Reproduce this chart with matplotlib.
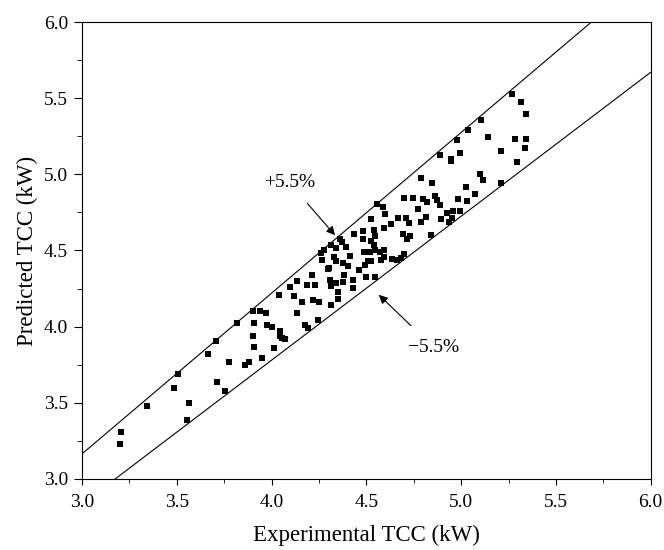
import matplotlib.pyplot as plt
from matplotlib.ticker import MultipleLocator

plt.rcParams['font.family'] = ['Liberation Serif', 'DejaVu Serif']

# Experimental vs predicted TCC (kW)
exp_tcc = [3.208, 3.199, 3.343, 3.504, 3.486, 3.567, 3.553, 3.706, 3.665, 3.713,
           3.773, 3.753, 3.818, 3.860, 3.883, 3.901, 3.939, 3.970, 3.907, 3.903,
           3.905, 3.948, 3.975, 4.000, 4.015, 4.042, 4.044, 4.053, 4.071, 4.040,
           4.096, 4.132, 4.116, 4.132, 4.161, 4.174, 4.194, 4.185, 4.212, 4.230,
           4.217, 4.248, 4.246, 4.259, 4.277, 4.264, 4.297, 4.304, 4.309, 4.311,
           4.313, 4.311, 4.329, 4.340, 4.338, 4.338, 4.353, 4.351, 4.360, 4.369,
           4.376, 4.378, 4.380, 4.394, 4.403, 4.416, 4.430, 4.432, 4.434, 4.459,
           4.483, 4.483, 4.488, 4.494, 4.499, 4.510, 4.519, 4.524, 4.524, 4.524,
           4.539, 4.542, 4.546, 4.548, 4.546, 4.557, 4.571, 4.577, 4.589, 4.595,
           4.600, 4.595, 4.593, 4.633, 4.631, 4.665, 4.661, 4.681, 4.698, 4.694,
           4.698, 4.707, 4.716, 4.723, 4.730, 4.748, 4.772, 4.786, 4.786, 4.797,
           4.813, 4.820, 4.840, 4.844, 4.860, 4.873, 4.887, 4.891, 4.893, 4.927,
           4.934, 4.945, 4.947, 4.952, 4.956, 4.978, 4.981, 4.992, 4.996, 5.023,
           5.030, 5.037, 5.073, 5.104, 5.100, 5.115, 5.144, 5.209, 5.209, 5.268,
           5.285, 5.294, 5.315, 5.344, 5.344, 5.339]
pred_tcc = [3.306, 3.233, 3.479, 3.688, 3.596, 3.500, 3.387, 3.905, 3.820, 3.638,
            3.771, 3.578, 4.022, 3.748, 3.769, 4.105, 4.105, 4.091, 4.027, 3.939,
            3.866, 3.797, 4.013, 3.995, 3.861, 3.974, 3.939, 3.928, 3.916, 4.209,
            4.262, 4.301, 4.202, 4.091, 4.163, 4.013, 3.992, 4.273, 4.342, 4.273,
            4.172, 4.163, 4.041, 4.481, 4.501, 4.435, 4.379, 4.386, 4.308, 4.266,
            4.144, 4.538, 4.458, 4.517, 4.428, 4.287, 4.230, 4.181, 4.577, 4.554,
            4.416, 4.294, 4.340, 4.524, 4.398, 4.462, 4.255, 4.308, 4.609, 4.370,
            4.626, 4.575, 4.490, 4.405, 4.324, 4.428, 4.492, 4.704, 4.563, 4.428,
            4.635, 4.533, 4.596, 4.504, 4.329, 4.803, 4.490, 4.439, 4.784, 4.646,
            4.738, 4.504, 4.455, 4.446, 4.676, 4.711, 4.439, 4.451, 4.842, 4.607,
            4.476, 4.711, 4.577, 4.679, 4.596, 4.842, 4.771, 4.976, 4.688, 4.838,
            4.720, 4.817, 4.605, 4.941, 4.861, 4.831, 5.130, 4.796, 4.704, 4.743,
            4.688, 5.100, 5.088, 4.713, 4.761, 5.227, 4.838, 5.139, 4.761, 4.918,
            4.826, 5.289, 4.870, 5.358, 4.999, 4.962, 5.245, 5.155, 4.946, 5.528,
            5.229, 5.081, 5.473, 5.395, 5.234, 5.176]

band = 0.055
line_x = [3.0, 6.0]

fig = plt.figure(figsize=(6.64, 5.5), dpi=100)
ax = fig.add_axes([0.1235, 0.1291, 0.8565, 0.8309])

ax.plot(line_x, [v * (1 + band) for v in line_x], color='black', lw=0.8)
ax.plot(line_x, [v * (1 - band) for v in line_x], color='black', lw=0.8)
ax.scatter(exp_tcc, pred_tcc, marker='s', s=22, color='black', linewidths=0, zorder=3)

ax.annotate('+5.5%', xy=(4.335, 4.600), xytext=(4.093, 4.946),
            ha='center', va='center', fontsize=14,
            arrowprops=dict(arrowstyle='-|>', color='black', lw=0.8,
                            shrinkA=9, shrinkB=0, mutation_scale=13))
ax.annotate('\u22125.5%', xy=(4.566, 4.209), xytext=(4.855, 3.863),
            ha='center', va='center', fontsize=14,
            arrowprops=dict(arrowstyle='-|>', color='black', lw=0.8,
                            shrinkA=11, shrinkB=0, mutation_scale=13))

ax.set_xlim(3.0, 6.0)
ax.set_ylim(3.0, 6.0)
ax.xaxis.set_major_locator(MultipleLocator(0.5))
ax.yaxis.set_major_locator(MultipleLocator(0.5))
ax.xaxis.set_minor_locator(MultipleLocator(0.25))
ax.yaxis.set_minor_locator(MultipleLocator(0.25))
ax.xaxis.set_major_formatter(plt.FormatStrFormatter('%.1f'))
ax.yaxis.set_major_formatter(plt.FormatStrFormatter('%.1f'))
ax.tick_params(which='both', direction='out', top=False, right=False, labelsize=14)
ax.tick_params(axis='x', which='major', length=4.5, pad=6)
ax.tick_params(axis='x', which='minor', length=3)
ax.tick_params(axis='y', which='major', length=6, pad=4)
ax.tick_params(axis='y', which='minor', length=3.5)

ax.set_xlabel('Experimental TCC (kW)', fontsize=16.5, labelpad=10)
ax.set_ylabel('Predicted TCC (kW)', fontsize=16.5, labelpad=4)

fig.savefig('out.png', dpi=100)
